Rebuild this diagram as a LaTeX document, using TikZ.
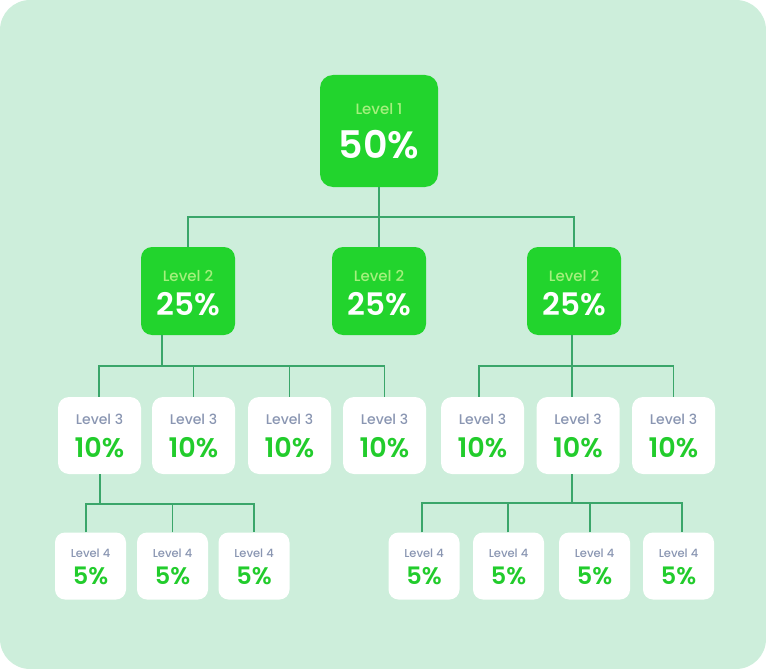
\documentclass[tikz,border=0pt]{standalone}
\usepackage{fontspec}
\setmainfont{Poppins}
\newfontfamily\medfont{Poppins Medium}
\newfontfamily\semifont{Poppins SemiBold}
\usetikzlibrary{calc}
\definecolor{bgcol}{RGB}{205,238,219}
\definecolor{gboxcol}{RGB}{34,212,45}
\definecolor{lgtxt}{RGB}{165,240,125}
\definecolor{greytxt}{RGB}{138,150,178}
\definecolor{pcttxt}{RGB}{34,204,44}
\definecolor{linecol}{RGB}{58,166,106}
\tikzset{
  conn/.style={draw=linecol, line width=1.2pt},
  gbox/.style={fill=gboxcol, draw=none, inner sep=0pt},
  wbox/.style={fill=white, draw=none, inner sep=0pt},
  l1box/.style={gbox, minimum width=118pt, minimum height=112pt, rounded corners=13pt},
  l2box/.style={gbox, minimum width=94pt, minimum height=88pt, rounded corners=11pt},
  l3box/.style={wbox, minimum width=83pt, minimum height=77pt, rounded corners=11pt},
  l4box/.style={wbox, minimum width=71pt, minimum height=67pt, rounded corners=10pt},
  txt/.style={anchor=base, inner sep=0pt},
}
\newcommand\boxone[4]{%
  \node[l1box] (#1) at (#2,#3) {};
  \node[txt, text=lgtxt, font=\fontsize{15}{15}\selectfont\medfont] (#1-lab) at ($(#1.center)+(0,-17)$) {Level 1};
  \node[txt, text=white, font=\fontsize{38}{38}\selectfont\semifont] (#1-pct) at ($(#1.center)+(0,27)$) {#4};
}
\newcommand\boxtwo[4]{%
  \node[l2box] (#1) at (#2,#3) {};
  \node[txt, text=lgtxt, font=\fontsize{15}{15}\selectfont\medfont] (#1-lab) at ($(#1.center)+(0,-10)$) {Level 2};
  \node[txt, text=white, font=\fontsize{31}{31}\selectfont\semifont] (#1-pct) at ($(#1.center)+(0,24)$) {#4};
}
\newcommand\boxthree[4]{%
  \node[l3box] (#1) at (#2,#3) {};
  \node[txt, text=greytxt, font=\fontsize{14}{14}\selectfont\medfont] (#1-lab) at ($(#1.center)+(0,-11.5)$) {Level 3};
  \node[txt, text=pcttxt, font=\fontsize{27}{27}\selectfont\semifont] (#1-pct) at ($(#1.center)+(0,21.5)$) {#4};
}
\newcommand\boxfour[4]{%
  \node[l4box] (#1) at (#2,#3) {};
  \node[txt, text=greytxt, font=\fontsize{11.5}{11.5}\selectfont\medfont] (#1-lab) at ($(#1.center)+(0,-8.5)$) {Level 4};
  \node[txt, text=pcttxt, font=\fontsize{24}{24}\selectfont\semifont] (#1-pct) at ($(#1.center)+(0,18.5)$) {#4};
}
\begin{document}
\begin{tikzpicture}[x=1pt, y=-1pt]
\useasboundingbox (0,0) rectangle (766,669);
\fill[bgcol, rounded corners=30pt] (0,0) rectangle (766,669);

\boxone{l1}{379}{131}{50\%}
\boxtwo{l2a}{188}{291}{25\%}
\boxtwo{l2b}{379}{291}{25\%}
\boxtwo{l2c}{574}{291}{25\%}

\boxthree{l3a}{99.5}{435.5}{10\%}
\boxthree{l3b}{193.5}{435.5}{10\%}
\boxthree{l3c}{289.5}{435.5}{10\%}
\boxthree{l3d}{384.5}{435.5}{10\%}
\boxthree{l3e}{482.5}{435.5}{10\%}
\boxthree{l3f}{578}{435.5}{10\%}
\boxthree{l3g}{673.5}{435.5}{10\%}

\boxfour{l4a}{90.5}{566}{5\%}
\boxfour{l4b}{172.5}{566}{5\%}
\boxfour{l4c}{254}{566}{5\%}
\boxfour{l4d}{424}{566}{5\%}
\boxfour{l4e}{508.5}{566}{5\%}
\boxfour{l4f}{594.5}{566}{5\%}
\boxfour{l4g}{678.5}{566}{5\%}

% junction points
\coordinate (j1) at (379,217);
\coordinate (j2) at (162,366);
\coordinate (j3) at (572,366);
\coordinate (k1) at (100,504);
\coordinate (k2) at (572,503);

% level 1 -> level 2
\draw[conn] (l1.south) -- (j1);
\draw[conn] (l2a.north) |- (j1) -| (l2c.north);
\draw[conn] (j1) -- (l2b.north);

% left level 2 -> level 3
\draw[conn] (l2a.south -| j2) -- (j2);
\draw[conn] (l3a.north -| 99,0) |- (j2) -| (l3d.north);
\draw[conn] (l3b.north) -- (l3b.north |- j2);
\draw[conn] (l3c.north) -- (l3c.north |- j2);

% right level 2 -> level 3
\draw[conn] (l2c.south -| j3) -- (j3);
\draw[conn] (l3e.north -| 479,0) |- (j3) -| (l3g.north);
\draw[conn] (j3) -- (l3f.north -| j3);

% left level 3 -> level 4
\draw[conn] (l3a.south -| k1) -- (k1);
\draw[conn] (l4a.north -| 86,0) |- (k1) -| (l4c.north);
\draw[conn] (l4b.north) -- (l4b.north |- k1);

% right level 3 -> level 4
\draw[conn] (l3f.south -| k2) -- (k2);
\draw[conn] (l4d.north -| 422,0) |- (k2) -| (l4g.north -| 682,0);
\draw[conn] (l4e.north -| 508,0) -- (k2 -| 508,0);
\draw[conn] (l4f.north -| 590,0) -- (k2 -| 590,0);
\end{tikzpicture}
\end{document}
